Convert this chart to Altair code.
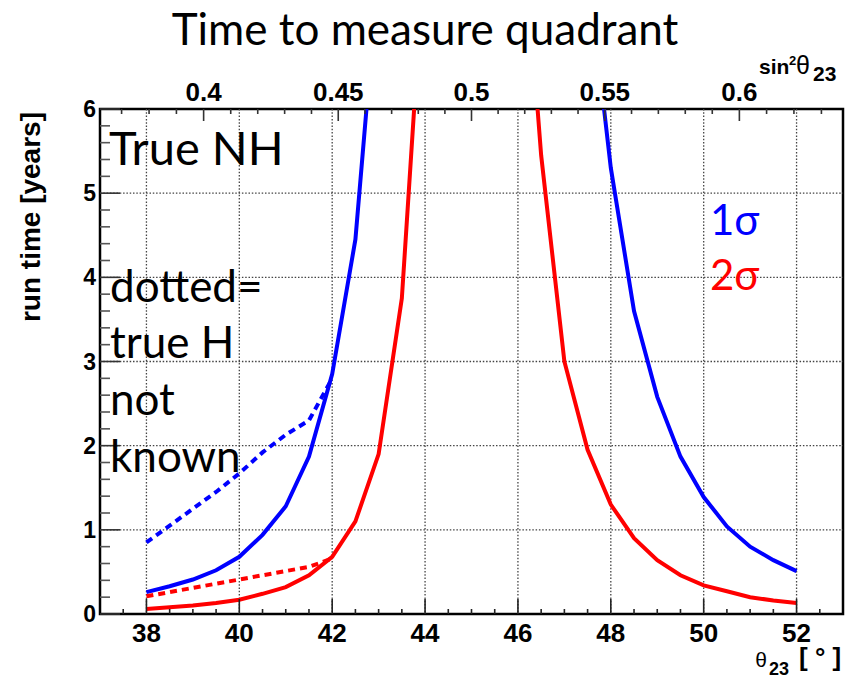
import altair as alt
import pandas as pd
import numpy as np

# ---------------- data ----------------
# True NH, 1 sigma (blue solid), left branch
nh1_left_theta = [38, 38.5, 39, 39.5, 40, 40.5, 41, 41.5, 42, 42.5, 43]
nh1_left_time = [0.26, 0.33, 0.41, 0.52, 0.68, 0.94, 1.28, 1.87, 2.85, 4.45, 7.7]
# True NH, 2 sigma (red solid), left branch
nh2_left_theta = [38, 38.5, 39, 39.5, 40, 40.5, 41, 41.5, 42, 42.5, 43, 43.5, 44]
nh2_left_time = [0.06, 0.08, 0.10, 0.13, 0.17, 0.24, 0.32, 0.46, 0.68, 1.10, 1.90, 3.75, 8.0]
# True NH, 1 sigma (blue solid), right branch
nh1_right_theta = [47.5, 48, 48.5, 49, 49.5, 50, 50.5, 51, 51.5, 52]
nh1_right_time = [7.7, 5.3, 3.6, 2.58, 1.87, 1.39, 1.04, 0.80, 0.64, 0.51]
# True NH, 2 sigma (red solid), right branch
nh2_right_theta = [46, 46.5, 47, 47.5, 48, 48.5, 49, 49.5, 50, 50.5, 51, 51.5, 52]
nh2_right_time = [9.0, 5.45, 3.0, 1.95, 1.30, 0.90, 0.64, 0.46, 0.34, 0.27, 0.20, 0.16, 0.13]
# hierarchy not known (dotted)
ih_theta = [38, 38.5, 39, 39.5, 40, 40.5, 41, 41.5, 42]
ih1_time = [0.85, 1.05, 1.25, 1.45, 1.67, 1.92, 2.13, 2.30, 2.80]
ih2_time = [0.21, 0.26, 0.31, 0.36, 0.41, 0.46, 0.51, 0.56, 0.66]

# axis ticks and labels
x_major = [38, 40, 42, 44, 46, 48, 50, 52]
x_labels = ["38", "40", "42", "44", "46", "48", "50", "52"]
x_minor = [37.5, 38.5, 39, 39.5, 40.5, 41, 41.5, 42.5, 43, 43.5, 44.5, 45, 45.5,
           46.5, 47, 47.5, 48.5, 49, 49.5, 50.5, 51, 51.5, 52.5]
y_major = [0, 1, 2, 3, 4, 5, 6]
y_labels = ["0", "1", "2", "3", "4", "5", "6"]
y_grid = [1, 2, 3, 4, 5]
y_minor = [0.2, 0.4, 0.6, 0.8, 1.2, 1.4, 1.6, 1.8, 2.2, 2.4, 2.6, 2.8, 3.2, 3.4, 3.6, 3.8,
           4.2, 4.4, 4.6, 4.8, 5.2, 5.4, 5.6, 5.8]
sin2_major = [0.40, 0.45, 0.50, 0.55, 0.60]
sin2_labels = ["0.4", "0.45", "0.5", "0.55", "0.6"]
sin2_minor = [0.37, 0.38, 0.39, 0.41, 0.42, 0.43, 0.44, 0.46, 0.47, 0.48, 0.49, 0.51, 0.52,
              0.53, 0.54, 0.56, 0.57, 0.58, 0.59, 0.61, 0.62, 0.63]

W, H = 743, 505
FONT = "Liberation Sans"
TFONT = "Lato, 'Noto Sans', sans-serif"

xs = alt.Scale(domain=[37, 53], nice=False, zero=False)
ys = alt.Scale(domain=[0, 6], nice=False, zero=False)


def curve(th, tm, color, dash=None):
    df = pd.DataFrame({"theta": th, "time": tm, "i": list(range(len(th)))})
    kw = dict(color=color, strokeWidth=4, clip=True)
    if dash:
        kw["strokeDash"] = dash
    return alt.Chart(df).mark_line(**kw).encode(
        x=alt.X("theta:Q", scale=xs, axis=None),
        y=alt.Y("time:Q", scale=ys, axis=None),
        order="i:Q",
    )


def xrules(vals, y1, y2, color="#222", width=1.6, dash=None):
    kw = dict(color=color, strokeWidth=width)
    if dash:
        kw["strokeDash"] = dash
    return alt.Chart(pd.DataFrame({"v": vals})).mark_rule(**kw).encode(
        x=alt.X("v:Q", scale=xs, axis=None), y=alt.value(y1), y2=alt.value(y2))


def yrules(vals, x1, x2, color="#555", width=1.6, dash=None):
    kw = dict(color=color, strokeWidth=width)
    if dash:
        kw["strokeDash"] = dash
    return alt.Chart(pd.DataFrame({"v": vals})).mark_rule(**kw).encode(
        y=alt.Y("v:Q", scale=ys, axis=None), x=alt.value(x1), x2=alt.value(x2))


def label(text, x, y, size, color="black", font=TFONT, weight="normal", align="left",
          baseline="alphabetic", angle=0):
    kw = dict(fontSize=size, color=color, font=font, fontWeight=weight, align=align,
              baseline=baseline)
    if angle:
        kw["angle"] = angle
    return alt.Chart(pd.DataFrame({"t": [text]})).mark_text(**kw).encode(
        x=alt.value(x), y=alt.value(y), text="t:N")


def deg_of(s):
    return [float(np.degrees(np.arcsin(np.sqrt(v)))) for v in s]


top_major_df = pd.DataFrame({"v": deg_of(sin2_major), "lab": sin2_labels})
top_minor_df = pd.DataFrame({"v": deg_of(sin2_minor)})

top_minor = alt.Chart(top_minor_df).mark_rule(color="#333", strokeWidth=1.6).encode(
    x=alt.X("v:Q", scale=xs, axis=None), y=alt.value(0), y2=alt.value(5))
top_major = alt.Chart(top_major_df).mark_rule(color="#333", strokeWidth=1.6).encode(
    x=alt.X("v:Q", scale=xs, axis=None), y=alt.value(0), y2=alt.value(12))
top_labels = alt.Chart(top_major_df).mark_text(
    font=FONT, fontWeight="bold", fontSize=26, color="black", baseline="alphabetic",
    align="center"
).encode(x=alt.X("v:Q", scale=xs, axis=None), y=alt.value(-8), text="lab:N")

bottom_labels = alt.Chart(pd.DataFrame({"v": x_major, "lab": x_labels})).mark_text(
    font=FONT, fontWeight="bold", fontSize=26, color="black", baseline="alphabetic",
    align="center"
).encode(x=alt.X("v:Q", scale=xs, axis=None), y=alt.value(H + 28), text="lab:N")

left_labels = alt.Chart(pd.DataFrame({"v": y_major, "lab": y_labels})).mark_text(
    font=FONT, fontWeight="bold", fontSize=23, color="black", baseline="middle",
    align="right", dy=1
).encode(y=alt.Y("v:Q", scale=ys, axis=None), x=alt.value(-4), text="lab:N")

GRID_DASH = [1.5, 1.8]

layers = [
    # grid
    xrules(x_major, 0, H, color="#444", width=1.3, dash=GRID_DASH),
    yrules(y_grid, 0, W, color="#444", width=1.3, dash=GRID_DASH),
    # curves
    curve(nh1_left_theta, nh1_left_time, "#0000ff"),
    curve(nh2_left_theta, nh2_left_time, "#ff0000"),
    curve(nh1_right_theta, nh1_right_time, "#0000ff"),
    curve(nh2_right_theta, nh2_right_time, "#ff0000"),
    curve(ih_theta, ih1_time, "#0000ff", dash=[7, 5]),
    curve(ih_theta, ih2_time, "#ff0000", dash=[7, 5]),
    # ticks
    xrules(x_minor, H, H - 5),
    xrules(x_major, H, H - 15),
    yrules(y_minor, 0, 10),
    yrules(y_major, 0, 20, color="#333"),
    top_minor, top_major,
    # tick labels
    top_labels, bottom_labels, left_labels,
    # titles
    label("Time to measure quadrant", 325, -64, 44, align="center"),
    label("run time [years]", -68, 3, 28, font=FONT, weight="bold", align="right",
          baseline="middle", angle=270),
    label("θ", 661, 558, 21, font=FONT, align="center"),
    label("23", 669, 566, 18, font=FONT, weight="bold"),
    label("[ ° ]", 699, 557, 26, font=FONT, weight="bold"),
    label("sin", 659, -35, 21, font=FONT, weight="bold"),
    label("2", 689, -44, 13, font=FONT, weight="bold"),
    label("θ", 703, -35, 25, font=FONT, align="center"),
    label("23", 713, -28, 21, font=FONT, weight="bold"),
    # annotations
    label("True NH", 9, 56, 47),
    label("dotted=", 10, 193, 44),
    label("true H", 10, 249, 44),
    label("not", 10, 306, 44),
    label("known", 10, 363, 44),
    label("1σ", 610, 126, 42, color="#0000ff"),
    label("2σ", 610, 181, 42, color="#ff0000"),
]

chart = alt.layer(*layers).properties(
    width=W, height=H,
    autosize=alt.AutoSizeParams(type="none"),
    padding={"left": 100, "top": 109, "right": 11, "bottom": 64},
).configure(
    background="white",
    view=alt.ViewConfig(stroke="black", strokeWidth=2.5),
)

chart.save("out.html", embed_options={"renderer": "svg", "actions": False})
